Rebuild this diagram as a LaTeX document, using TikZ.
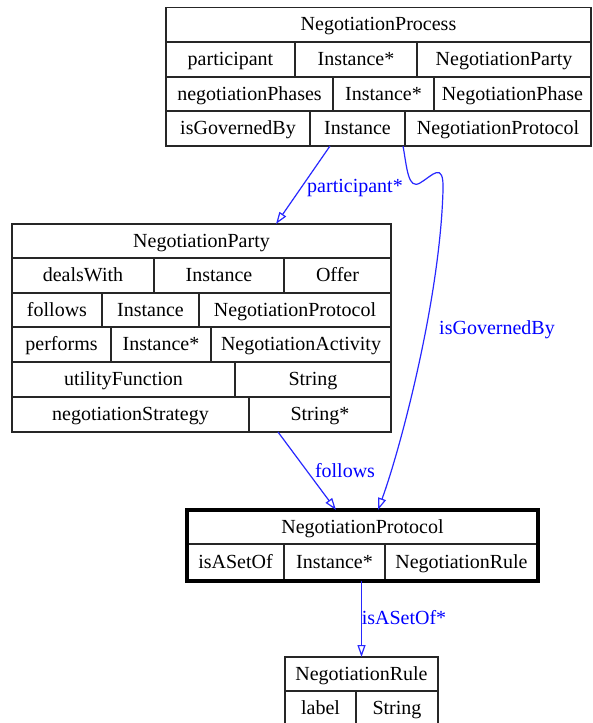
\documentclass[tikz,border=0pt]{standalone}
\usepackage{fontspec}
\setmainfont[Ligatures=NoCommon]{Liberation Serif}
\usetikzlibrary{arrows.meta,calc}

\definecolor{edgeblue}{RGB}{40,40,255}

\tikzset{
  cell/.style={draw=black!85, line width=1.1pt, inner sep=0pt, outer sep=0pt,
               text height=16pt, text depth=4pt,
               font=\fontsize{20}{24}\selectfont, text=black},
  frame/.style={draw=black, line width=3.5pt, inner sep=0pt, outer sep=0pt},
  edge/.style={draw=edgeblue, line width=1.2pt,
               -{Triangle[open,length=12pt,width=8pt,line width=1.2pt]}},
  elabel/.style={text=blue, inner sep=0pt, text height=16pt, text depth=4pt,
                 font=\fontsize{20}{24}\selectfont},
}

% one record cell: name, x1, y1, x2, y2, text
\newcommand\tcell[6]{%
  \pgfmathsetmacro\cellw{#4-#2}%
  \pgfmathsetmacro\cellh{#5-#3}%
  \node[cell, minimum width=\cellw pt, minimum height=\cellh pt]
    (#1) at ({(#2+#4)/2},{(#3+#5)/2}) {#6};}

\begin{document}
\begin{tikzpicture}[x=1pt,y=-1pt]
  \path[use as bounding box] (0,0) rectangle (592,723);
  \clip (0,0) rectangle (592,723);
  \fill[white] (0,0) rectangle (592,723);

  % NegotiationProcess
  \tcell{pT}{166}{7.5}{591}{42}{NegotiationProcess}
  \tcell{pA1}{166}{42}{295}{77}{participant}
  \tcell{pI1}{295}{42}{417}{77}{Instance*}
  \tcell{pC1}{417}{42}{591}{77}{NegotiationParty}
  \tcell{pA2}{166}{77}{333}{111}{negotiationPhases}
  \tcell{pI2}{333}{77}{434}{111}{Instance*}
  \tcell{pC2}{434}{77}{591}{111}{NegotiationPhase}
  \tcell{pA3}{166}{111}{310}{146}{isGovernedBy}
  \tcell{pI3}{310}{111}{405}{146}{Instance}
  \tcell{pC3}{405}{111}{591}{146}{NegotiationProtocol}

  % NegotiationParty
  \tcell{aT}{12}{224}{391}{258}{NegotiationParty}
  \tcell{aA1}{12}{258}{154}{293}{dealsWith}
  \tcell{aI1}{154}{258}{284}{293}{Instance}
  \tcell{aC1}{284}{258}{391}{293}{Offer}
  \tcell{aA2}{12}{293}{102}{327}{follows}
  \tcell{aI2}{102}{293}{199}{327}{Instance}
  \tcell{aC2}{199}{293}{391}{327}{NegotiationProtocol}
  \tcell{aA3}{12}{327}{111}{362}{performs}
  \tcell{aI3}{111}{327}{211}{362}{Instance*}
  \tcell{aC3}{211}{327}{391}{362}{NegotiationActivity}
  \tcell{aA4}{12}{362}{235}{397}{utilityFunction}
  \tcell{aI4}{235}{362}{391}{397}{String}
  \tcell{aA5}{12}{397}{249}{432}{negotiationStrategy}
  \tcell{aI5}{249}{397}{391}{432}{String*}

  % NegotiationProtocol (bold frame)
  \tcell{rT}{187}{510}{538}{544}{NegotiationProtocol}
  \tcell{rA1}{187}{544}{284}{581}{isASetOf}
  \tcell{rI1}{284}{544}{385}{581}{Instance*}
  \tcell{rC1}{385}{544}{538}{581}{NegotiationRule}
  \node[frame, minimum width=351pt, minimum height=71pt] (rFrame) at (362.5,545.5) {};

  % NegotiationRule
  \tcell{uT}{285}{657}{438}{691}{NegotiationRule}
  \tcell{uA1}{285}{691}{356}{726}{label}
  \tcell{uI1}{356}{691}{438}{726}{String}

  % connectors
  \draw[edge] ([xshift=-27.5pt]pI3.south) -- ([xshift=74.5pt]aT.north);
  \node[elabel] (lPart) at (355,186) {participant*};

  \draw[edge] ([xshift=-2pt]pI3.south east)
    .. controls (407,168) and (408,190) .. (420,183)
    .. controls (432,176) and (444,160) .. (443,190)
    .. controls (440,300) and (400,450) .. ([xshift=15.5pt]rT.north);
  \node[elabel] (lGov) at (497,328) {isGovernedBy};

  \draw[edge] ([xshift=-42pt]aI5.south) -- ([xshift=-26.5pt]rT.north);
  \node[elabel] (lFol) at (345,471) {follows};

  \draw[edge] (uT |- rFrame.south) -- (uT.north);
  \node[elabel] (lSet) at (404,618) {isASetOf*};
\end{tikzpicture}
\end{document}
